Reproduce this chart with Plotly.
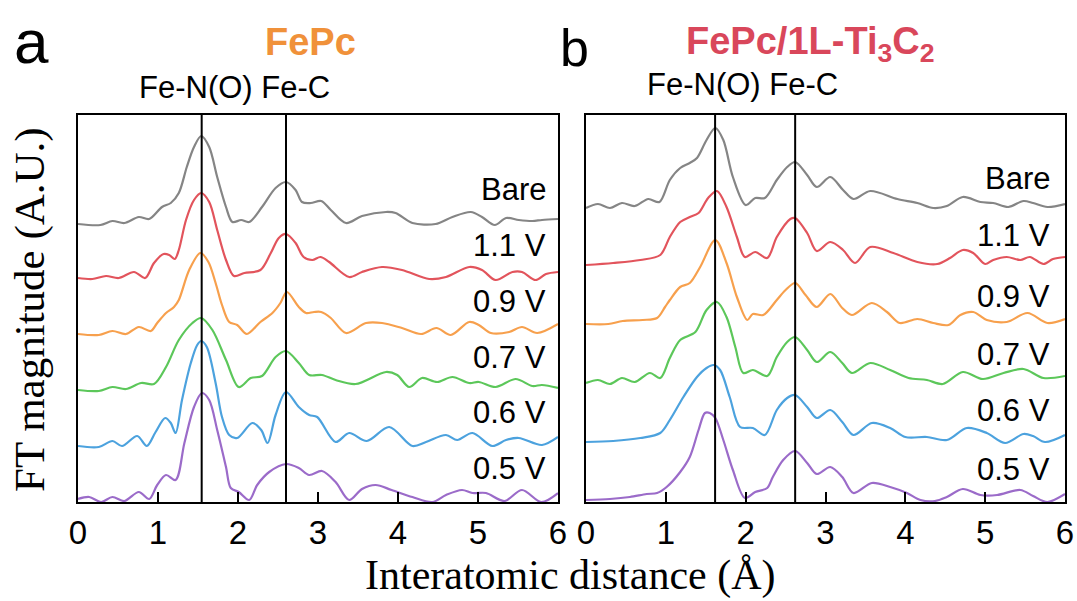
import plotly.graph_objects as go

# ---------------- data (stacked FT magnitude, arbitrary units) ----------------
labels = ["Bare", "1.1 V", "0.9 V", "0.7 V", "0.6 V", "0.5 V"]
colors = ["#858585", "#E2545C", "#F7A04D", "#5CC75A", "#4CA2DE", "#9B6BC9"]

# Panel a: FePc
a_bare_x = [0, 0.28, 0.43, 0.58, 0.76, 0.89, 1.05, 1.16, 1.26, 1.36, 1.45, 1.54, 1.64, 1.74, 1.85, 1.93, 2.04, 2.14, 2.30, 2.47, 2.60, 2.72, 2.80, 2.91, 3.04, 3.16, 3.35, 3.55, 3.85, 3.97, 4.18, 4.47, 4.68, 4.91, 5.05, 5.21, 5.35, 5.51, 5.68, 5.80, 6.0]
a_bare_y = [278, 277, 281, 279, 285, 283, 295, 299, 309, 335, 355, 366, 355, 325, 295, 280, 282, 280, 295, 314, 320, 312, 300, 299, 301, 292, 279, 286, 290, 289, 279, 278, 285, 290, 285, 277, 284, 282, 281, 282, 283]

a_11_x = [0, 0.18, 0.35, 0.51, 0.70, 0.84, 0.95, 1.07, 1.14, 1.21, 1.26, 1.35, 1.45, 1.54, 1.64, 1.74, 1.85, 1.95, 2.08, 2.28, 2.41, 2.51, 2.60, 2.72, 2.82, 2.93, 3.03, 3.14, 3.39, 3.55, 3.80, 4.05, 4.39, 4.60, 4.89, 5.05, 5.22, 5.43, 5.55, 5.72, 5.85, 6.0]
a_11_y = [224, 223, 226, 224, 230, 224, 239, 248, 247, 243, 252, 282, 302, 309, 300, 272, 242, 226, 229, 232, 249, 264, 268, 259, 245, 242, 245, 240, 225, 230, 235, 232, 223, 225, 235, 232, 222, 230, 230, 222, 228, 230]

a_09_x = [0, 0.26, 0.43, 0.60, 0.76, 0.91, 0.99, 1.10, 1.20, 1.26, 1.39, 1.53, 1.63, 1.72, 1.80, 1.89, 1.99, 2.11, 2.28, 2.43, 2.53, 2.61, 2.76, 2.85, 2.95, 3.04, 3.16, 3.35, 3.60, 3.80, 4.05, 4.29, 4.48, 4.66, 4.89, 5.01, 5.16, 5.39, 5.55, 5.74, 6.0]
a_09_y = [168, 167, 171, 168, 175, 171, 179, 189, 195, 202, 232, 249, 240, 219, 197, 180, 177, 168, 180, 189, 199, 210, 195, 189, 190, 190, 184, 169, 179, 179, 174, 168, 174, 167, 180, 177, 169, 170, 175, 169, 178]

a_07_x = [0, 0.26, 0.43, 0.60, 0.79, 0.95, 1.10, 1.26, 1.43, 1.54, 1.68, 1.85, 2.01, 2.16, 2.30, 2.47, 2.60, 2.76, 2.89, 3.05, 3.22, 3.47, 3.85, 3.99, 4.14, 4.30, 4.49, 4.68, 4.89, 5.01, 5.22, 5.47, 5.68, 5.80, 6.0]
a_07_y = [112, 111, 115, 113, 119, 118, 135, 162, 179, 184, 172, 142, 115, 124, 126, 145, 151, 139, 127, 127, 122, 118, 130, 127, 115, 124, 120, 125, 119, 120, 115, 123, 116, 117, 114]

a_06_x = [0, 0.26, 0.43, 0.55, 0.74, 0.86, 0.97, 1.09, 1.16, 1.22, 1.30, 1.41, 1.49, 1.54, 1.61, 1.72, 1.80, 1.89, 1.99, 2.18, 2.29, 2.37, 2.47, 2.60, 2.76, 2.89, 2.99, 3.22, 3.39, 3.61, 3.89, 4.18, 4.35, 4.60, 4.74, 4.93, 5.18, 5.35, 5.51, 5.80, 6.0]
a_06_y = [56, 55, 61, 56, 66, 56, 70, 84, 79, 69, 102, 139, 157, 161, 155, 119, 85, 67, 64, 79, 72, 59, 87, 110, 95, 87, 85, 60, 69, 61, 75, 56, 60, 67, 62, 69, 56, 62, 64, 57, 65]

a_05_x = [0, 0.14, 0.29, 0.43, 0.58, 0.76, 0.89, 0.99, 1.10, 1.22, 1.33, 1.45, 1.55, 1.64, 1.74, 1.85, 1.91, 2.01, 2.14, 2.24, 2.39, 2.60, 2.76, 2.89, 3.05, 3.22, 3.39, 3.55, 3.72, 3.92, 4.18, 4.43, 4.60, 4.80, 4.93, 5.10, 5.33, 5.55, 5.79, 6.0]
a_05_y = [3, 5, 0, 5, 1, 10, 3, 17, 27, 22, 59, 95, 109, 102, 72, 35, 14, 10, 2, 17, 30, 38, 34, 27, 31, 20, 2, 13, 17, 12, 5, 0, 7, 12, 9, 9, 1, 12, 0, 9]

# Panel b: FePc/1L-Ti3C2
b_bare_x = [0, 0.15, 0.30, 0.45, 0.61, 0.78, 0.92, 1.05, 1.18, 1.30, 1.39, 1.51, 1.62, 1.72, 1.84, 2.00, 2.12, 2.24, 2.39, 2.52, 2.62, 2.77, 2.89, 3.06, 3.22, 3.35, 3.56, 3.90, 4.15, 4.35, 4.52, 4.72, 4.94, 5.10, 5.29, 5.48, 5.60, 5.78, 6.0]
b_bare_y = [294, 298, 294, 299, 296, 303, 300, 322, 334, 339, 344, 362, 374, 362, 325, 297, 304, 304, 322, 335, 340, 327, 315, 325, 312, 303, 311, 303, 299, 294, 296, 305, 300, 299, 295, 301, 299, 295, 298]

b_11_x = [0, 0.34, 0.68, 0.93, 1.05, 1.18, 1.30, 1.41, 1.53, 1.64, 1.76, 1.89, 1.99, 2.12, 2.27, 2.39, 2.56, 2.62, 2.77, 2.89, 3.06, 3.22, 3.37, 3.56, 3.85, 4.15, 4.40, 4.56, 4.72, 4.85, 5.00, 5.10, 5.27, 5.44, 5.56, 5.73, 5.85, 6.0]
b_11_y = [237, 239, 242, 247, 265, 280, 285, 289, 304, 311, 295, 265, 245, 250, 244, 265, 283, 284, 269, 251, 260, 252, 239, 255, 249, 240, 238, 244, 252, 249, 238, 242, 245, 242, 245, 238, 243, 245]

b_09_x = [0, 0.28, 0.46, 0.71, 0.89, 0.99, 1.05, 1.18, 1.30, 1.43, 1.62, 1.76, 1.89, 2.02, 2.09, 2.22, 2.39, 2.50, 2.62, 2.75, 2.89, 3.06, 3.21, 3.33, 3.58, 3.77, 3.93, 4.15, 4.35, 4.54, 4.69, 4.85, 5.02, 5.27, 5.53, 5.78, 6.0]
b_09_y = [178, 178, 181, 182, 184, 195, 202, 215, 219, 235, 262, 239, 205, 182, 188, 187, 202, 212, 219, 207, 195, 208, 194, 187, 199, 190, 179, 183, 179, 177, 187, 190, 182, 180, 189, 179, 183]

b_07_x = [0, 0.15, 0.30, 0.45, 0.61, 0.80, 0.93, 1.05, 1.18, 1.37, 1.51, 1.64, 1.76, 1.87, 1.97, 2.09, 2.27, 2.39, 2.52, 2.62, 2.77, 2.89, 3.06, 3.21, 3.33, 3.56, 3.81, 4.04, 4.27, 4.47, 4.72, 4.97, 5.23, 5.48, 5.73, 6.0]
b_07_y = [119, 122, 118, 124, 120, 129, 124, 144, 162, 170, 192, 200, 185, 155, 129, 132, 126, 145, 160, 165, 152, 140, 150, 139, 129, 139, 132, 124, 122, 118, 130, 123, 129, 133, 124, 126]

b_06_x = [0, 0.34, 0.68, 0.93, 1.05, 1.22, 1.39, 1.51, 1.60, 1.68, 1.80, 1.93, 2.09, 2.24, 2.39, 2.52, 2.62, 2.77, 2.89, 3.06, 3.21, 3.35, 3.58, 3.81, 4.00, 4.27, 4.52, 4.77, 5.02, 5.25, 5.48, 5.60, 5.75, 6.0]
b_06_y = [60, 61, 64, 69, 82, 105, 125, 134, 137, 132, 105, 75, 74, 67, 92, 104, 107, 95, 84, 92, 80, 67, 79, 74, 65, 65, 62, 74, 69, 59, 68, 66, 60, 67]

b_05_x = [0, 0.30, 0.55, 0.76, 0.89, 1.01, 1.18, 1.30, 1.41, 1.49, 1.55, 1.62, 1.72, 1.84, 1.99, 2.12, 2.27, 2.34, 2.47, 2.62, 2.77, 2.89, 3.06, 3.21, 3.35, 3.58, 3.81, 4.02, 4.19, 4.37, 4.52, 4.72, 4.94, 5.15, 5.44, 5.60, 5.78, 6.0]
b_05_y = [2, 3, 5, 8, 9, 15, 30, 45, 72, 89, 89, 84, 62, 32, 4, 10, 14, 25, 42, 51, 39, 28, 35, 25, 9, 19, 15, 9, 2, 1, 5, 13, 7, 7, 12, 6, 0, 8]

a_x = [a_bare_x, a_11_x, a_09_x, a_07_x, a_06_x, a_05_x]
a_y = [a_bare_y, a_11_y, a_09_y, a_07_y, a_06_y, a_05_y]
b_x = [b_bare_x, b_11_x, b_09_x, b_07_x, b_06_x, b_05_x]
b_y = [b_bare_y, b_11_y, b_09_y, b_07_y, b_06_y, b_05_y]

# reference bond positions (Å)
a_lines = [1.546, 2.60]
b_lines = [1.617, 2.62]

x_ticks = [0, 1, 2, 3, 4, 5, 6]

# ---------------- figure ----------------
W, H = 1077, 601
fig = go.Figure()

for xs, ys, c, n in zip(a_x, a_y, colors, labels):
    fig.add_trace(go.Scatter(x=xs, y=ys, mode="lines", line=dict(color=c, width=2.2, shape="spline", smoothing=0.9),
                             name=n, xaxis="x", yaxis="y", showlegend=False, hoverinfo="skip"))
for xs, ys, c, n in zip(b_x, b_y, colors, labels):
    fig.add_trace(go.Scatter(x=xs, y=ys, mode="lines", line=dict(color=c, width=2.2, shape="spline", smoothing=0.9),
                             name=n, xaxis="x2", yaxis="y2", showlegend=False, hoverinfo="skip"))

SANS = "Liberation Sans, Arial, sans-serif"
SERIF = "Liberation Serif, Times New Roman, serif"

ax_common = dict(range=[0, 6], showline=True, mirror=True, linecolor="black", linewidth=2,
                 ticks="inside", ticklen=10, tickwidth=2, tickcolor="black",
                 tickvals=x_ticks, ticktext=[str(t) for t in x_ticks],
                 tickfont=dict(family=SANS, size=33, color="black"),
                 showgrid=False, zeroline=False, fixedrange=True, automargin=False)
ay_common = dict(range=[0, 387], showline=True, mirror=True, linecolor="black", linewidth=2,
                 ticks="", showticklabels=False, showgrid=False, zeroline=False, fixedrange=True,
                 automargin=False)

yb, yt = 1 - 502 / H, 1 - 115 / H
fig.update_layout(
    width=W, height=H, margin=dict(l=0, r=0, t=0, b=0, autoexpand=False),
    paper_bgcolor="white", plot_bgcolor="white",
    xaxis=dict(domain=[78 / W, 558 / W], anchor="y", **ax_common),
    yaxis=dict(domain=[yb, yt], anchor="x", **ay_common),
    xaxis2=dict(domain=[586 / W, 1065 / W], anchor="y2", **ax_common),
    yaxis2=dict(domain=[yb, yt], anchor="x2", **ay_common),
)

shapes = []
for xv in a_lines:
    shapes.append(dict(type="line", xref="x", yref="y domain", x0=xv, x1=xv, y0=0, y1=1,
                       line=dict(color="black", width=2)))
for xv in b_lines:
    shapes.append(dict(type="line", xref="x2", yref="y2 domain", x0=xv, x1=xv, y0=0, y1=1,
                       line=dict(color="black", width=2)))
fig.update_layout(shapes=shapes)

ann = []
def paper_xy(px, py):
    return px / W, 1 - py / H

# curve labels
a_lab_py = [190, 245, 301, 357, 413, 468]
b_lab_py = [179, 235, 296, 354, 411, 469]
for t, py in zip(labels, a_lab_py):
    x, y = paper_xy(548, py)
    ann.append(dict(text=t, x=x, y=y, xref="paper", yref="paper", xanchor="right", yanchor="middle",
                    showarrow=False, font=dict(family=SANS, size=31, color="black")))
for t, py in zip(labels, b_lab_py):
    x, y = paper_xy(1052, py)
    ann.append(dict(text=t, x=x, y=y, xref="paper", yref="paper", xanchor="right", yanchor="middle",
                    showarrow=False, font=dict(family=SANS, size=31, color="black")))

# bond annotations
for px, py in [(234, 88), (742, 85)]:
    x, y = paper_xy(px, py)
    ann.append(dict(text="Fe-N(O) Fe-C", x=x, y=y, xref="paper", yref="paper", xanchor="center", yanchor="middle",
                    showarrow=False, font=dict(family=SANS, size=31, color="black")))

# titles
x, y = paper_xy(310, 42)
ann.append(dict(text="<b>FePc</b>", x=x, y=y, xref="paper", yref="paper", xanchor="center", yanchor="middle",
                showarrow=False, font=dict(family=SANS, size=38, color="#F0913A")))
x, y = paper_xy(810, 44)
ann.append(dict(text="<b>FePc/1L-Ti<sub>3</sub>C<sub>2</sub></b>", x=x, y=y, xref="paper", yref="paper",
                xanchor="center", yanchor="middle",
                showarrow=False, font=dict(family=SANS, size=38, color="#D9475B")))

# panel letters
x, y = paper_xy(31, 42)
ann.append(dict(text="a", x=x, y=y, xref="paper", yref="paper", xanchor="center", yanchor="middle",
                showarrow=False, font=dict(family=SANS, size=62, color="black")))
x, y = paper_xy(574, 48)
ann.append(dict(text="b", x=x, y=y, xref="paper", yref="paper", xanchor="center", yanchor="middle",
                showarrow=False, font=dict(family=SANS, size=52, color="black")))

# axis titles
x, y = paper_xy(30, 310)
ann.append(dict(text="FT magnitude (A.U.)", x=x, y=y, xref="paper", yref="paper", xanchor="center", yanchor="middle",
                textangle=-90, showarrow=False, font=dict(family=SERIF, size=43, color="black")))
x, y = paper_xy(570, 575)
ann.append(dict(text="Interatomic distance (Å)", x=x, y=y, xref="paper", yref="paper", xanchor="center", yanchor="middle",
                showarrow=False, font=dict(family=SERIF, size=42, color="black")))

fig.update_layout(annotations=ann)
fig.write_html("out.html")
